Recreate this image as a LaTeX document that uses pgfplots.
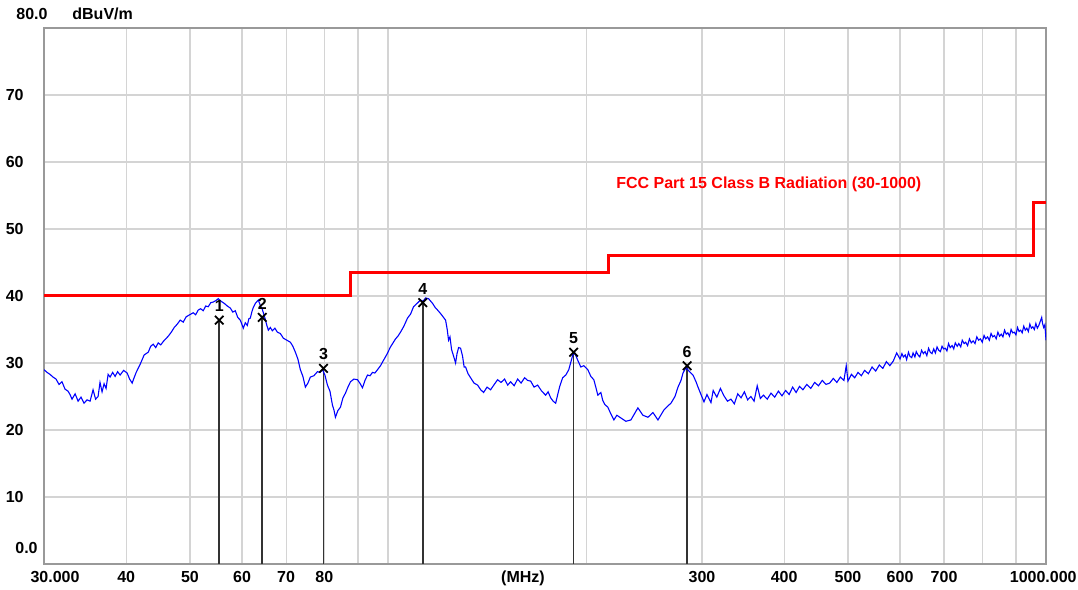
\documentclass[border=0pt]{standalone}
\usepackage{fontspec}
\setmainfont{Liberation Sans}
\usepackage{pgfplots}
\pgfplotsset{compat=1.18}
\begin{document}
\begin{tikzpicture}[font=\bfseries\fontsize{8}{9}\selectfont]
\begin{axis}[
 scale only axis, width=501pt, height=268pt,
 xmode=log, xmin=30, xmax=1000, ymin=0, ymax=80,
 xtick={40,50,60,70,80,90,100,200,300,400,500,600,700,800,900},
 xticklabels={40,50,60,70,80,{},{},{},300,400,500,600,700,{},{}},
 ytick={10,20,30,40,50,60,70},
 yticklabels={10,20,30,40,50,60,70},
 major tick length=0pt, minor tick num=0,
 grid=major, major grid style={draw=black!17, line width=0.6pt},
 axis line style={draw=black!40, line width=1pt},
 xticklabel style={anchor=base, yshift=-9.25pt, inner sep=0pt},
 yticklabel style={anchor=base east, xshift=-10pt, yshift=-2.85pt, inner sep=0pt},
]
\coordinate (SW) at (rel axis cs:0,0);
\coordinate (NE) at (rel axis cs:1,1);
\coordinate (NW) at (rel axis cs:0,1);
\coordinate (SE) at (rel axis cs:1,0);
% limit line
\addplot[draw={rgb,255:red,255;green,0;blue,0}, line width=1.5pt] coordinates {
(30,40)(87.7,40)(87.7,43.5)(216.5,43.5)(216.5,46)(957,46)(957,54)(1000,54)};
% marker lines
\addplot[ycomb, draw=black!80, line width=0.8pt] coordinates {
(55.4,36.4)(64.4,36.8)(79.8,29.2)(112.9,39.0)(191.5,31.6)(284.8,29.6)};
% measured trace
\addplot[draw={rgb,255:red,0;green,0;blue,255}, line width=0.55pt] coordinates {
(30.00,29.0)(30.32,28.6)(30.64,28.3)(30.96,27.9)(31.29,27.6)(31.62,26.8)(31.95,27.2)
(32.29,26.1)(32.63,25.8)(32.86,25.3)(33.09,24.6)(33.45,25.4)(33.80,24.3)(34.15,24.9)
(34.51,24.0)(34.88,24.5)(35.25,24.3)(35.62,26.0)(35.94,24.6)(36.25,25.0)(36.50,27.1)
(36.76,25.7)(37.02,26.9)(37.28,26.2)(37.55,28.3)(37.81,27.9)(38.15,28.6)(38.48,28.0)
(38.82,28.7)(39.16,28.2)(39.64,28.9)(40.13,28.5)(40.48,27.6)(40.84,27.0)(41.12,27.8)
(41.42,28.6)(42.00,29.8)(42.59,31.2)(43.20,31.6)(43.58,32.5)(43.96,32.8)(44.35,32.3)
(44.74,33.0)(45.13,32.7)(45.53,33.2)(45.93,33.6)(46.34,34.0)(46.83,34.6)(47.32,35.3)
(47.82,35.8)(48.32,36.4)(48.83,36.1)(49.34,36.9)(49.95,37.2)(50.57,37.5)(51.00,37.2)
(51.46,37.9)(51.90,38.1)(52.37,37.8)(52.83,38.5)(53.30,38.4)(53.77,39.0)(54.24,39.1)
(54.72,39.3)(55.20,39.6)(55.78,39.2)(56.38,38.9)(56.98,38.5)(57.58,38.2)(58.08,37.6)
(58.59,37.8)(59.10,36.8)(59.63,36.4)(60.26,35.2)(60.68,36.0)(61.11,35.6)(61.44,36.6)
(61.76,36.7)(62.08,37.6)(62.41,38.3)(62.85,38.9)(63.51,39.4)(63.95,38.6)(64.41,38.0)
(65.09,36.5)(65.44,35.6)(65.78,34.9)(66.24,35.3)(66.71,34.8)(67.30,35.2)(67.88,34.6)
(68.60,34.4)(69.33,33.7)(70.18,33.4)(71.05,33.1)(71.68,32.5)(72.31,31.6)(72.94,30.6)
(73.58,29.0)(74.23,28.0)(74.89,26.4)(75.55,27.0)(76.21,27.9)(77.15,28.1)(78.10,28.7)
(78.78,28.6)(79.48,29.0)(80.18,28.2)(80.89,26.7)(81.60,25.8)(82.32,23.7)(82.75,23.0)
(83.18,21.9)(83.90,22.9)(84.66,23.4)(85.40,24.8)(86.15,25.5)(86.90,26.4)(87.68,27.2)
(88.75,27.6)(89.85,27.5)(90.60,27.0)(91.44,26.3)(92.25,27.4)(93.06,28.2)(93.90,28.1)
(94.70,28.6)(95.50,28.5)(96.38,29.0)(97.40,29.6)(98.42,30.4)(99.60,31.3)(100.86,32.4)
(101.75,33.0)(102.65,33.6)(103.50,34.0)(104.46,34.6)(105.70,35.5)(107.05,36.7)(108.20,37.3)
(109.33,38.4)(110.70,38.9)(112.04,39.4)(113.00,39.2)(114.02,39.7)(115.22,39.6)(116.85,38.9)
(117.90,38.3)(118.92,37.9)(120.59,37.2)(122.30,36.4)(123.00,35.0)(123.59,33.4)(124.20,33.9)
(124.89,32.0)(125.80,31.0)(126.66,30.0)(127.30,31.4)(128.00,32.3)(128.90,32.2)(129.80,31.0)
(130.50,29.4)(131.17,29.4)(132.30,28.4)(133.49,27.8)(135.10,27.0)(136.81,26.7)(138.30,26.0)
(139.71,25.6)(141.40,26.4)(143.18,26.0)(145.00,26.8)(146.73,27.5)(148.50,27.1)(150.37,27.6)
(152.00,26.7)(153.57,27.2)(155.50,26.6)(157.38,27.6)(159.30,27.0)(161.29,27.8)(163.00,27.4)
(164.71,27.3)(166.70,26.4)(168.80,26.7)(171.20,25.8)(173.60,25.2)(175.10,25.7)(176.67,24.8)
(178.20,24.3)(179.80,24.0)(181.00,25.2)(182.34,26.5)(184.27,27.8)(186.27,28.2)(188.24,29.0)
(190.90,31.2)(192.25,31.5)(194.28,30.4)(196.33,29.4)(198.40,29.6)(201.20,29.0)(203.33,28.0)
(205.48,27.5)(207.00,26.3)(208.38,25.2)(210.58,25.6)(212.00,24.4)(213.56,23.8)(215.81,23.4)
(218.09,22.4)(220.40,21.5)(222.72,22.2)(225.87,21.8)(229.86,21.3)(233.93,21.5)(236.80,22.4)
(239.74,23.3)(243.98,22.2)(248.30,21.9)(252.69,22.6)(257.15,21.5)(262.62,23.0)(266.33,23.6)
(269.15,24.0)(272.96,25.0)(275.84,26.4)(278.76,27.4)(280.72,28.5)(283.68,29.3)(286.68,28.8)
(290.72,28.2)(293.80,27.2)(295.86,26.4)(298.95,25.3)(302.11,24.2)(305.30,25.3)(309.62,24.1)
(312.0,25.9)(316.0,24.9)(320.0,26.2)(324.0,25.1)(328.0,24.3)(332.0,24.6)(336.0,23.9)
(340.0,25.4)(344.0,24.8)(348.0,25.7)(352.0,24.5)(356.0,25.0)(360.0,24.3)(364.0,26.6)
(368.0,24.7)(372.0,25.2)(377.0,24.6)(382.0,25.5)(387.0,24.9)(392.0,25.8)(397.0,25.1)
(402.0,25.9)(407.0,25.3)(412.0,26.4)(417.0,25.6)(422.0,26.5)(427.0,26.0)(433.0,26.8)
(439.0,26.2)(445.0,27.1)(451.0,26.6)(457.0,27.4)(463.0,26.8)(469.0,27.0)(475.0,27.7)
(481.0,27.1)(487.0,27.9)(493.0,27.4)(497.0,29.6)(500.0,27.3)(506.0,28.3)(512.0,27.8)
(518.0,28.6)(524.0,28.1)(530.0,28.9)(537.0,28.4)(544.0,29.4)(551.0,28.8)(558.0,29.7)
(565.0,29.2)(572.0,30.2)(579.0,29.6)(586.0,30.3)(593.0,31.5)
(600,30.6)(604,31.4)(607,30.9)(611,31.2)(614,30.5)(618,31.6)(621,31.0)(625,30.8)
(628,31.5)(632,30.9)(635,31.7)(639,31.2)(643,30.9)(647,31.9)(651,31.4)(655,31.7)
(659,31.1)(663,32.2)(667,31.6)(671,31.4)(675,32.1)(679,31.5)(683,32.4)(687,31.9)
(691,31.7)(695,32.5)(699,32.1)(703,32.2)(707,31.8)(711,32.9)(715,32.3)(720,32.6)
(724,32.1)(728,33.0)(733,32.5)(737,32.9)(742,32.4)(746,33.4)(751,32.9)(755,33.1)
(760,32.6)(765,33.6)(770,33.0)(775,33.3)(780,32.9)(785,33.9)(790,33.4)(795,33.6)
(800,33.1)(805,34.1)(810,33.6)(815,33.9)(820,33.4)(825,34.4)(830,33.9)(835,34.1)
(840,33.6)(845,34.6)(850,34.0)(855,34.3)(860,33.9)(865,34.9)(870,34.3)(875,34.5)
(880,34.0)(885,35.0)(890,34.5)(895,34.6)(900,34.2)(905,35.3)(910,34.7)(915,34.9)
(920,34.5)(925,35.5)(930,34.9)(935,35.2)(940,34.7)(945,35.8)(950,35.2)(955,35.4)
(960,35.0)(965,35.9)(970,35.2)(975,35.6)(980,36.2)(985,36.8)(988,35.9)(992,35.3)
(996,35.7)(1000,33.4)};
% markers
\addplot[only marks, mark=x, mark size=3pt, black, line width=0.9pt,
 nodes near coords, point meta=explicit symbolic,
 nodes near coords style={anchor=center, inner sep=0pt, yshift=7pt, text=black}]
 coordinates {(55.4,36.4)[1] (64.4,36.8)[2] (79.8,29.2)[3] (112.9,39.0)[4] (191.5,31.6)[5] (284.8,29.6)[6]};
\node[anchor=west, inner sep=0pt, text={rgb,255:red,255;green,0;blue,0}] at (axis cs:222,56.6) {FCC Part 15 Class B Radiation (30-1000)};
\end{axis}
\node[anchor=base west, inner sep=0pt] at ([shift={(-14pt,4.15pt)}]NW) {80.0};
\node[anchor=base west, inner sep=0pt] at ([shift={(14pt,4.15pt)}]NW) {dBuV/m};
\node[anchor=base east, inner sep=0pt] at ([shift={(-3pt,5.15pt)}]SW) {0.0};
\node[anchor=base, inner sep=0pt] at ([shift={(5.5pt,-9.25pt)}]SW) {30.000};
\node[anchor=base, inner sep=0pt] at ([shift={(239.5pt,-9.25pt)}]SW) {(MHz)};
\node[anchor=base east, inner sep=0pt] at ([shift={(15.5pt,-9.25pt)}]SE) {1000.000};
\pgfresetboundingbox
\path[use as bounding box] ([shift={(-22pt,-13pt)}]SW) rectangle ([shift={(16pt,14pt)}]NE);
\end{tikzpicture}
\end{document}
